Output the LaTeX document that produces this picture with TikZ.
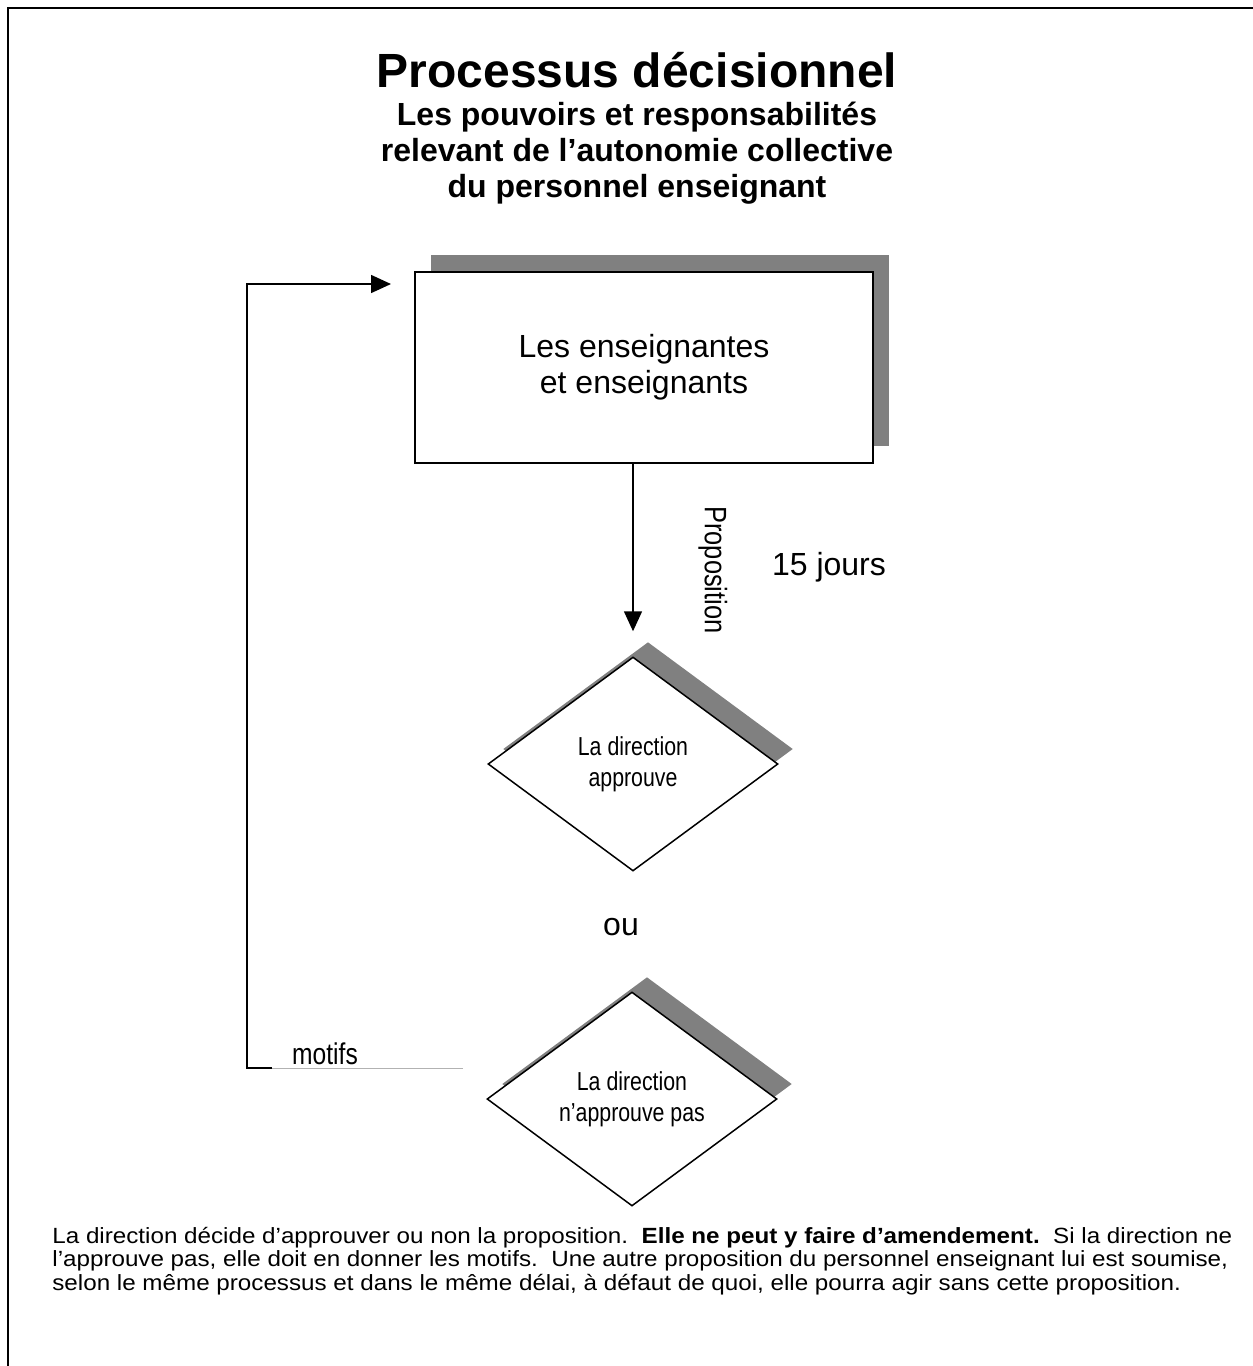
\documentclass[tikz,border=0pt]{standalone}
\usepackage{fontspec}
\setmainfont{Liberation Sans}
\newfontfamily\narrowfont[FakeStretch=0.82]{Liberation Sans}
\newfontfamily\bodyfont[FakeStretch=1.1]{Liberation Sans}
\usepackage{tikz}
\usetikzlibrary{shapes}
\usetikzlibrary{shadows}
\usetikzlibrary{arrows.meta}
\definecolor{shadowgray}{RGB}{128,128,128}

\tikzset{
  flowbox/.style={draw,fill=white,line width=1pt,minimum width=229pt,minimum height=95.5pt,
    align=center,font=\fontsize{16}{18}\selectfont,
    general shadow={fill=shadowgray,shadow xshift=8pt,shadow yshift=8.5pt}},
  decision/.style={diamond,draw,fill=white,line width=0.75pt,minimum width=145pt,minimum height=107pt,
    inner sep=0pt,align=center,font=\narrowfont\fontsize{13}{15.5}\selectfont,
    general shadow={fill=shadowgray,shadow xshift=7.5pt,shadow yshift=7.5pt}},
  flowarrow/.style={line width=0.75pt,-{Triangle[length=10pt,width=9pt]}}
}

\begin{document}
\begin{tikzpicture}[x=0.5pt,y=-0.5pt]
\useasboundingbox (0,0) rectangle (1253,1366);
\draw[line width=1pt] (1253,8) -- (8,8) -- (8,1366);

\node[font=\bfseries\fontsize{24}{28}\selectfont,inner sep=0pt] (title) at (637,70) {Processus décisionnel};
\node[font=\bfseries\fontsize{16}{18}\selectfont,align=center,inner sep=0pt] (sub) at (637,153)
  {Les pouvoirs et responsabilités\\relevant de l’autonomie collective\\du personnel enseignant};

\node[flowbox] (ens) at (644,367.5) {Les enseignantes\\et enseignants};
\node[decision] (dir1) at (633,764) {La direction\\approuve};
\node[decision] (dir2) at (632,1099) {La direction\\n’approuve pas};

\draw[flowarrow,shorten >=12.5pt] (ens.south -| dir1.north) -- (dir1.north);
\node[rotate=-90,font=\narrowfont\fontsize{15.5}{17}\selectfont] (prop) at (713,570) {Proposition};
\node[font=\fontsize{16}{18}\selectfont] (delai) at (829,567) {15 jours};
\node[font=\fontsize{16}{18}\selectfont] (ou) at (621,927) {ou};

\coordinate (mot) at (463,1068);
\coordinate (kink) at (272,1068);
\coordinate (corner) at (247,1068);
\draw[gray!60,line width=0.5pt] (mot) -- (kink);
\draw[flowarrow] (kink) -- (corner) |- ([xshift=-11.5pt,yshift=-6.5pt]ens.north west);
\node[font=\narrowfont\fontsize{15}{17}\selectfont] (motifs) at (325,1054) {motifs};

\node[anchor=west,align=left,inner sep=0pt,font=\bodyfont\fontsize{11}{11.8}\selectfont] (note) at (52,1261)
  {La direction décide d’approuver ou non la proposition.\ \ \textbf{Elle ne peut y faire d’amendement.}\ \ Si la direction ne\\
   l’approuve pas, elle doit en donner les motifs.\ \ Une autre proposition du personnel enseignant lui est soumise,\\
   selon le même processus et dans le même délai, à défaut de quoi, elle pourra agir sans cette proposition.};
\end{tikzpicture}
\end{document}
